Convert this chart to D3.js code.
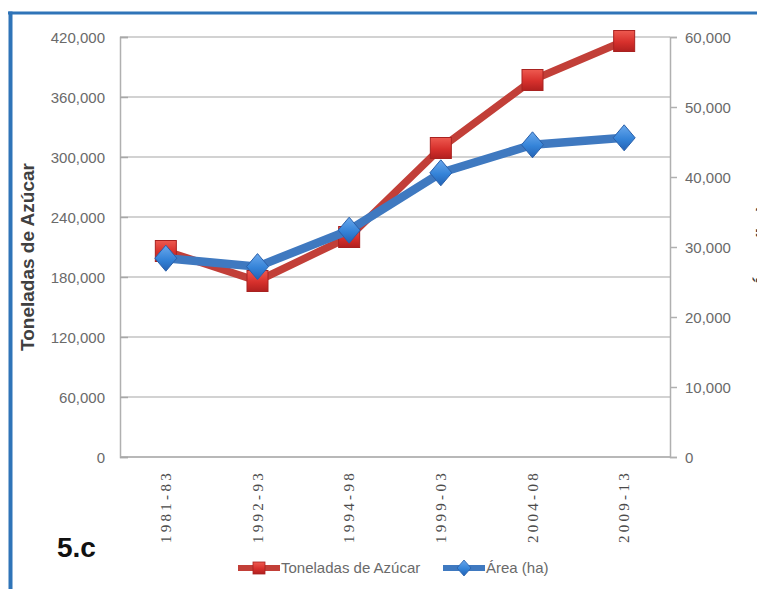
<!DOCTYPE html>
<html>
<head>
<meta charset="utf-8">
<script src="https://cdn.jsdelivr.net/npm/d3@7"></script>
<style>
  html, body { margin: 0; padding: 0; background: #fff; }
  svg { display: block; }
</style>
</head>
<body>
<svg id="chart" width="757" height="589"></svg>
<script>
// Periods on the horizontal axis
const periods = ["1981-83", "1992-93", "1994-98", "1999-03", "2004-08", "2009-13"];
// Sugar production (tonnes), left axis
const sugarTonnes = [206000, 176000, 220000, 309000, 377000, 416000];
// Cultivated area (ha), right axis
const areaHa = [28400, 27200, 32400, 40600, 44600, 45600];
// Axis tick values
const leftTicks = [0, 60000, 120000, 180000, 240000, 300000, 360000, 420000];
const rightTicks = [0, 10000, 20000, 30000, 40000, 50000, 60000];
// Text
const leftTitle = "Toneladas de Azúcar";
const rightTitle = "Área (ha)";
const sugarName = "Toneladas de Azúcar";
const areaName = "Área (ha)";
const panelTag = "5.c";

const svg = d3.select("#chart");
const W = 757, H = 589;
const plot = { left: 120, right: 670, top: 37, bottom: 457 };

const fmt = d3.format(",");
const x = d3.scalePoint().domain(periods).range([plot.left, plot.right]).padding(0.5);
const yL = d3.scaleLinear().domain([0, 420000]).range([plot.bottom, plot.top]);
const yR = d3.scaleLinear().domain([0, 60000]).range([plot.bottom, plot.top]);

const RED_LINE = "#c23f38", BLUE_LINE = "#3f79c0";
const TXT = "#6a6a6a";
const sans = "'Liberation Sans', Arial, sans-serif";

// gradients for the markers
const defs = svg.append("defs");
const gRed = defs.append("linearGradient").attr("id", "gRed").attr("x1", 0).attr("y1", 0).attr("x2", 0).attr("y2", 1);
gRed.append("stop").attr("offset", "0%").attr("stop-color", "#ee5a50");
gRed.append("stop").attr("offset", "55%").attr("stop-color", "#d7302c");
gRed.append("stop").attr("offset", "100%").attr("stop-color", "#b1201f");
const gBlue = defs.append("linearGradient").attr("id", "gBlue").attr("x1", 0).attr("y1", 0).attr("x2", 0).attr("y2", 1);
gBlue.append("stop").attr("offset", "0%").attr("stop-color", "#6aa8ec");
gBlue.append("stop").attr("offset", "55%").attr("stop-color", "#3483d8");
gBlue.append("stop").attr("offset", "100%").attr("stop-color", "#2362b4");

// outer frame (blue rule on top and left)
svg.append("line").attr("x1", 8).attr("x2", W).attr("y1", 13).attr("y2", 13)
  .attr("stroke", "#2f74b8").attr("stroke-width", 3);
svg.append("line").attr("x1", 10.5).attr("x2", 10.5).attr("y1", 11.5).attr("y2", H)
  .attr("stroke", "#2f74b8").attr("stroke-width", 4);

// horizontal gridlines from the left axis
svg.append("g").selectAll("line").data(leftTicks).join("line")
  .attr("x1", plot.left).attr("x2", plot.right)
  .attr("y1", d => yL(d)).attr("y2", d => yL(d))
  .attr("stroke", d => d === 0 ? "#b8b8b8" : "#d2d2d2").attr("stroke-width", 2);

// left axis
const axL = svg.append("g").attr("transform", `translate(${plot.left},0)`)
  .call(d3.axisLeft(yL).tickValues(leftTicks).tickFormat(fmt).tickSize(-8).tickPadding(14));
axL.select(".domain").attr("stroke", "#b0b0b0").attr("stroke-width", 1.5);
axL.selectAll(".tick line").attr("stroke", "#a8a8a8").attr("stroke-width", 1.5);
axL.selectAll(".tick text").attr("fill", TXT).attr("font-family", sans).attr("font-size", 15)
  .attr("dy", "0.34em").attr("x", -15);

// right axis
const axR = svg.append("g").attr("transform", `translate(${plot.right},0)`)
  .call(d3.axisRight(yR).tickValues(rightTicks).tickFormat(fmt).tickSize(7).tickPadding(8));
axR.select(".domain").attr("stroke", "#b0b0b0").attr("stroke-width", 1.5);
axR.selectAll(".tick line").attr("stroke", "#b0b0b0").attr("stroke-width", 1.5);
axR.selectAll(".tick text").attr("fill", TXT).attr("font-family", sans).attr("font-size", 15)
  .attr("dy", "0.34em");

// category labels, rotated
svg.append("g").selectAll("text").data(periods).join("text")
  .attr("transform", d => `translate(${x(d) + 5},470) rotate(-90)`)
  .attr("text-anchor", "end")
  .attr("font-family", "'Liberation Serif', 'Times New Roman', serif")
  .attr("font-size", 15).attr("letter-spacing", 3.3)
  .attr("fill", "#4a4a4a")
  .text(d => d);

// axis titles
svg.append("text").attr("transform", "translate(34,257) rotate(-90)")
  .attr("text-anchor", "middle").attr("font-family", sans)
  .attr("font-weight", "bold").attr("font-size", 19).attr("fill", "#404040")
  .text(leftTitle);
svg.append("text").attr("transform", "translate(769,246) rotate(-90)")
  .attr("text-anchor", "middle").attr("font-family", sans)
  .attr("font-weight", "bold").attr("font-size", 19).attr("fill", "#404040")
  .text(rightTitle);

// series lines
const sugarLine = d3.line().x((d, i) => x(periods[i])).y(d => yL(d));
const areaLine = d3.line().x((d, i) => x(periods[i])).y(d => yR(d));

svg.append("path").datum(sugarTonnes).attr("d", sugarLine)
  .attr("fill", "none").attr("stroke", RED_LINE).attr("stroke-width", 7.5).attr("stroke-linejoin", "round");
const sq = 21;
svg.append("g").selectAll("rect").data(sugarTonnes).join("rect")
  .attr("x", (d, i) => x(periods[i]) - sq / 2).attr("y", d => yL(d) - sq / 2)
  .attr("width", sq).attr("height", sq)
  .attr("fill", "url(#gRed)").attr("stroke", "#a82220").attr("stroke-width", 1);

svg.append("path").datum(areaHa).attr("d", areaLine)
  .attr("fill", "none").attr("stroke", BLUE_LINE).attr("stroke-width", 8.5).attr("stroke-linejoin", "round");
const diamond = (cx, cy, hw, hh) => `M${cx},${cy - hh}L${cx + hw},${cy}L${cx},${cy + hh}L${cx - hw},${cy}Z`;
svg.append("g").selectAll("path").data(areaHa).join("path")
  .attr("d", (d, i) => diamond(x(periods[i]), yR(d), 11, 13))
  .attr("fill", "url(#gBlue)").attr("stroke", "#2a60aa").attr("stroke-width", 1);

// legend
const ly = 568;
const leg = svg.append("g");
leg.append("line").attr("x1", 238).attr("x2", 280).attr("y1", ly).attr("y2", ly)
  .attr("stroke", RED_LINE).attr("stroke-width", 6);
leg.append("rect").attr("x", 253).attr("y", ly - 6).attr("width", 12).attr("height", 12)
  .attr("fill", "url(#gRed)").attr("stroke", "#a82220").attr("stroke-width", 0.8);
leg.append("text").attr("x", 281).attr("y", ly).attr("dy", "0.35em")
  .attr("font-family", sans).attr("font-size", 15).attr("fill", TXT).text(sugarName);
leg.append("line").attr("x1", 443).attr("x2", 485).attr("y1", ly).attr("y2", ly)
  .attr("stroke", BLUE_LINE).attr("stroke-width", 6);
leg.append("path").attr("d", diamond(464, ly, 7, 8))
  .attr("fill", "url(#gBlue)").attr("stroke", "#2a60aa").attr("stroke-width", 0.8);
leg.append("text").attr("x", 486).attr("y", ly).attr("dy", "0.35em")
  .attr("font-family", sans).attr("font-size", 15).attr("fill", TXT).text(areaName);

// panel tag
svg.append("text").attr("x", 57).attr("y", 557)
  .attr("font-family", sans).attr("font-weight", "bold")
  .attr("font-size", 28).attr("fill", "#111").text(panelTag);
</script>
</body>
</html>
